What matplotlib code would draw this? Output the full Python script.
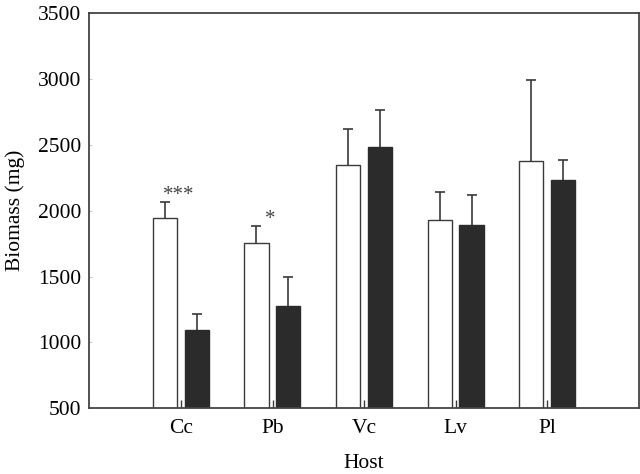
import matplotlib.pyplot as plt
import numpy as np

hosts = ['Cc', 'Pb', 'Vc', 'Lv', 'Pl']
white_mean = [1942, 1757, 2349, 1932, 2379]
white_err = [124, 127, 271, 207, 613]
black_mean = [1092, 1276, 2486, 1891, 2233]
black_err = [121, 223, 275, 225, 149]
stars = ['***', '*', '', '', '']

plt.rcParams['font.family'] = ['Liberation Serif', 'DejaVu Serif']
edge = '#3a3a3a'

fig = plt.figure(figsize=(6.4, 4.74), dpi=100)
ax = fig.add_axes([0.1395, 0.1386, 0.859, 0.834])

x = np.arange(1, len(hosts) + 1)
w = 0.265
xw = x - 0.176
xb = x + 0.172
ax.bar(xw, white_mean, w, color='white', edgecolor=edge, linewidth=1.0, zorder=2)
ax.bar(xb, black_mean, w, color='#2b2b2b', edgecolor='#2b2b2b', linewidth=1.0, zorder=2)

# upper error bars only
for xs, m, e in [(xw, white_mean, white_err), (xb, black_mean, black_err)]:
    eb = ax.errorbar(xs, m, yerr=[np.zeros(5), e], fmt='none', ecolor=edge,
                     elinewidth=1.2, capsize=3.5, capthick=1.2, zorder=1)
    eb[1][0].set_visible(False)

for i, s in enumerate(stars):
    if s:
        top = white_mean[i] + white_err[i]
        ax.text(x[i] - 0.02, top - 22, s, ha='center', va='bottom', fontsize=15, color='#444444')

ax.set_xlim(0, 6)
ax.set_ylim(500, 3500)
ax.set_yticks(range(500, 3501, 500))
ax.set_xticks(x)
ax.set_xticklabels(hosts)
ax.tick_params(axis='x', direction='in', length=6, width=1, color=edge, labelsize=15.5, pad=8)
ax.tick_params(axis='y', direction='in', length=2, width=0.6, color='#bbbbbb', labelsize=15.5, pad=6)
for sp in ax.spines.values():
    sp.set_color('#444444')
    sp.set_linewidth(1.3)

ax.set_ylabel('Biomass (mg)', fontsize=15.5, labelpad=9)
ax.set_xlabel('Host', fontsize=15.5, labelpad=11)

fig.savefig('out.png', dpi=100)
